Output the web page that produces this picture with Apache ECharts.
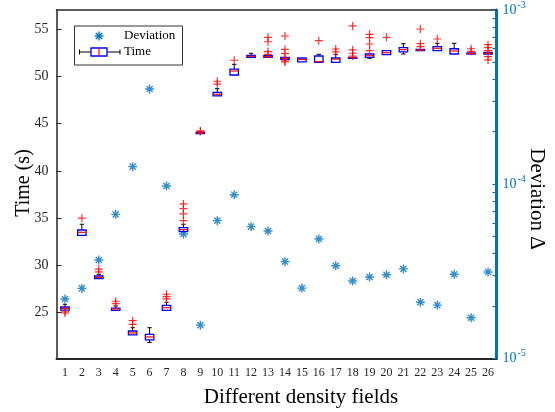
<!DOCTYPE html>
<html>
<head>
<meta charset="utf-8">
<script src="https://cdn.jsdelivr.net/npm/echarts@6/dist/echarts.min.js"></script>
<style>
  html, body { margin: 0; padding: 0; background: #fff; }
  #chart { width: 555px; height: 412px; }
</style>
</head>
<body>
<div id="chart"></div>
<script>
// density fields 1..26
const categories = ['1', '2', '3', '4', '5', '6', '7', '8', '9', '10', '11', '12', '13',
  '14', '15', '16', '17', '18', '19', '20', '21', '22', '23', '24', '25', '26']

// deviation (right, log axis)
const deviation = [2.19e-5, 2.52e-5, 3.67e-5, 6.71e-5, 1.26e-4, 3.52e-4, 9.76e-5, 5.17e-5,
  1.55e-5, 6.17e-5, 8.7e-5, 5.70e-5, 5.38e-5, 3.59e-5, 2.53e-5, 4.84e-5, 3.40e-5, 2.78e-5,
  2.93e-5, 3.02e-5, 3.26e-5, 2.10e-5, 2.02e-5, 3.04e-5, 1.71e-5, 3.13e-5]

// box statistics of time (s)
const whiskerLow = [25.28, 33.19, 28.60, 25.25, 22.64, 21.86, 25.25, 33.57, 43.92, 47.94, 50.16, 52.03, 52.03,
  51.82, 51.54, 51.50, 51.50, 51.96, 51.93, 52.31, 52.38, 52.73, 52.73, 52.38, 52.38, 52.38]
const q1 = [25.28, 33.19, 28.60, 25.25, 22.64, 22.11, 25.25, 33.57, 43.95, 47.94, 50.16, 52.03, 52.03,
  51.82, 51.54, 51.50, 51.50, 51.96, 52.03, 52.31, 52.60, 52.73, 52.73, 52.38, 52.38, 52.38]
const median = [25.45, 33.51, 28.74, 25.39, 22.85, 22.43, 25.53, 33.79, 44.02, 48.12, 50.58, 52.14, 52.10,
  51.90, 51.80, 51.57, 51.85, 52.00, 52.20, 52.52, 52.84, 52.80, 52.99, 52.70, 52.43, 52.47]
const q3 = [25.60, 33.75, 28.88, 25.49, 23.06, 22.71, 25.78, 34.00, 44.08, 48.33, 50.79, 52.24, 52.20,
  52.03, 51.96, 52.17, 51.96, 52.03, 52.38, 52.73, 53.05, 52.88, 53.16, 52.94, 52.49, 52.56]
const whiskerHigh = [25.89, 34.36, 29.06, 25.71, 23.41, 23.41, 26.10, 34.36, 44.10, 48.71, 51.29, 52.46, 52.20,
  52.03, 51.96, 52.35, 52.35, 52.03, 52.38, 52.73, 53.47, 52.88, 53.51, 53.51, 52.49, 52.56]

// outliers (red +)
const outliers = [
  [25.15, 24.97], [35.0], [29.62, 29.31], [26.21, 25.95], [24.15, 23.77], [],
  [26.95, 26.69, 26.45], [36.51, 36.01, 35.45, 34.74], [44.25, 44.18], [49.5, 49.2], [51.72], [],
  [54.15, 53.68, 52.63, 52.35], [54.29, 52.88, 52.42, 51.93, 51.67, 51.54], [], [53.79],
  [52.91, 52.6], [55.35, 52.81, 52.46, 52.17], [54.47, 54.11, 53.44, 52.73], [54.15], [],
  [55.03, 53.47, 53.16], [53.97], [], [52.94, 52.67], [53.37, 53.05, 52.73, 52.10, 51.75]
]

const timeTicks = [25, 30, 35, 40, 45, 50, 55]
const devLabels = [1e-5, 1e-4, 1e-3]
const devTicks = [1e-5, 2e-5, 3e-5, 4e-5, 5e-5, 6e-5, 7e-5, 8e-5, 9e-5,
  1e-4, 2e-4, 3e-4, 4e-4, 5e-4, 6e-4, 7e-4, 8e-4, 9e-4, 1e-3]

const FONT = 'Liberation Serif'
const BLUE = '#0072BD'
const TEXT = '#262626'

const boxData = categories.map((c, i) => [i, whiskerLow[i], q1[i], median[i], q3[i], whiskerHigh[i]])
const outlierData = []
outliers.forEach((list, i) => list.forEach(v => outlierData.push([i, v])))
const devData = deviation.map((v, i) => [i, v])

const ASTERISK = 'path://M5,0L5,10M0,5L10,5M1.6,1.6L8.4,8.4M1.6,8.4L8.4,1.6'
const PLUS = 'path://M5,0L5,10M0,5L10,5'

function renderBox(params, api) {
  const x = api.value(0)
  const pLo = api.coord([x, api.value(1)])
  const pQ1 = api.coord([x, api.value(2)])
  const pMed = api.coord([x, api.value(3)])
  const pQ3 = api.coord([x, api.value(4)])
  const pHi = api.coord([x, api.value(5)])
  const hw = api.size([1, 0])[0] * 0.25
  const cap = 2.2
  const cx = pMed[0]
  const black = { stroke: '#000', lineWidth: 1 }
  const children = []
  if (pHi[1] < pQ3[1] - 0.5) {
    children.push({ type: 'line', shape: { x1: cx, y1: pQ3[1], x2: cx, y2: pHi[1] }, style: black })
    children.push({ type: 'line', shape: { x1: cx - cap, y1: pHi[1], x2: cx + cap, y2: pHi[1] }, style: black })
  }
  if (pLo[1] > pQ1[1] + 0.5) {
    children.push({ type: 'line', shape: { x1: cx, y1: pQ1[1], x2: cx, y2: pLo[1] }, style: black })
    children.push({ type: 'line', shape: { x1: cx - cap, y1: pLo[1], x2: cx + cap, y2: pLo[1] }, style: black })
  }
  children.push({
    type: 'rect',
    shape: { x: cx - hw, y: pQ3[1], width: hw * 2, height: Math.max(pQ1[1] - pQ3[1], 1) },
    style: { fill: 'none', stroke: '#0000FF', lineWidth: 1.3 }
  })
  children.push({
    type: 'line',
    shape: { x1: cx - hw, y1: pMed[1], x2: cx + hw, y2: pMed[1] },
    style: { stroke: '#FF0000', lineWidth: 1.2 }
  })
  return { type: 'group', children }
}

// small legend glyphs
function legendLine(x1, y1, x2, y2, color, w) {
  return { type: 'line', z: 12, shape: { x1, y1, x2, y2 }, style: { stroke: color, lineWidth: w } }
}

const chart = echarts.init(document.getElementById('chart'))

const option = {
  animation: false,
  grid: { left: 56.5, right: 58.5, top: 10, bottom: 53.7 },
  xAxis: [
    {
      type: 'category',
      data: categories,
      position: 'bottom',
      axisLine: { lineStyle: { color: TEXT, width: 2 } },
      axisTick: { inside: true, length: 5, alignWithLabel: true, interval: 0, lineStyle: { color: TEXT } },
      axisLabel: { interval: 0, margin: 9, fontFamily: FONT, fontSize: 12, color: TEXT },
      splitLine: { show: false }
    },
    {
      type: 'category',
      data: categories,
      position: 'top',
      axisLine: { lineStyle: { color: TEXT, width: 1.5 } },
      axisTick: { inside: true, length: 5, alignWithLabel: true, interval: 0, lineStyle: { color: TEXT } },
      axisLabel: { show: false },
      splitLine: { show: false }
    }
  ],
  yAxis: [
    {
      type: 'value',
      position: 'left',
      min: 20.17,
      max: 57.04,
      axisLine: { show: true, lineStyle: { color: TEXT, width: 1.5 } },
      axisTick: { show: true, inside: true, length: 5, customValues: timeTicks, lineStyle: { color: TEXT } },
      axisLabel: { customValues: timeTicks, margin: 8, fontFamily: FONT, fontSize: 14, color: TEXT },
      splitLine: { show: false }
    },
    {
      type: 'log',
      logBase: 10,
      position: 'right',
      min: 1e-5,
      max: 1e-3,
      axisLine: { show: true, lineStyle: { color: BLUE, width: 3 } },
      axisTick: { show: true, inside: true, length: 4, customValues: devTicks, lineStyle: { color: BLUE } },
      axisLabel: {
        customValues: devLabels,
        margin: 6,
        color: BLUE,
        formatter: v => '{b|10}{s|' + Math.round(Math.log10(v)) + '}',
        rich: {
          b: { fontFamily: FONT, fontSize: 14, color: BLUE },
          s: { fontFamily: FONT, fontSize: 10, color: BLUE, padding: [0, 0, 9, 1] }
        }
      },
      splitLine: { show: false }
    }
  ],
  series: [
    {
      name: 'Deviation',
      type: 'scatter',
      xAxisIndex: 0,
      yAxisIndex: 1,
      symbol: ASTERISK,
      symbolSize: 9,
      itemStyle: { color: 'rgba(0,0,0,0)', borderColor: BLUE, borderWidth: 1.4 },
      data: devData,
      z: 3
    },
    {
      name: 'Time',
      type: 'custom',
      xAxisIndex: 0,
      yAxisIndex: 0,
      renderItem: renderBox,
      encode: { x: 0, y: [1, 2, 3, 4, 5] },
      data: boxData,
      z: 4
    },
    {
      name: 'Outliers',
      type: 'scatter',
      xAxisIndex: 0,
      yAxisIndex: 0,
      symbol: PLUS,
      symbolSize: 8,
      itemStyle: { color: 'rgba(0,0,0,0)', borderColor: '#FF0000', borderWidth: 1.2 },
      data: outlierData,
      z: 5
    }
  ],
  graphic: [
    // axis titles
    {
      type: 'text', x: 24, y: 183, rotation: Math.PI / 2,
      style: { text: 'Time (s)', fontFamily: FONT, fontSize: 20, fill: '#000', align: 'center', verticalAlign: 'middle' }
    },
    {
      type: 'text', x: 537, y: 199, rotation: -Math.PI / 2,
      style: { text: 'Deviation Δ', fontFamily: FONT, fontSize: 21, fill: '#000', align: 'center', verticalAlign: 'middle' }
    },
    {
      type: 'text', x: 301, y: 397,
      style: { text: 'Different density fields', fontFamily: FONT, fontSize: 21, fill: '#000', align: 'center', verticalAlign: 'middle' }
    },
    // legend
    {
      type: 'rect', z: 10, shape: { x: 74.5, y: 26, width: 108, height: 39 },
      style: { fill: '#fff', stroke: '#333', lineWidth: 1 }
    },
    legendLine(99, 31.5, 99, 40.5, BLUE, 1.4),
    legendLine(94.5, 36, 103.5, 36, BLUE, 1.4),
    legendLine(95.9, 32.9, 102.1, 39.1, BLUE, 1.4),
    legendLine(95.9, 39.1, 102.1, 32.9, BLUE, 1.4),
    {
      type: 'text', x: 124, y: 36, z: 12,
      style: { text: 'Deviation', fontFamily: FONT, fontSize: 13, fill: '#000', verticalAlign: 'middle' }
    },
    legendLine(79.5, 52, 120, 52, '#000', 1),
    legendLine(79.5, 49.5, 79.5, 54.5, '#000', 1),
    legendLine(120, 49.5, 120, 54.5, '#000', 1),
    {
      type: 'rect', z: 13, shape: { x: 91, y: 48, width: 16, height: 8 },
      style: { fill: '#fff', stroke: '#0000FF', lineWidth: 1.3 }
    },
    { type: 'line', z: 14, shape: { x1: 99, y1: 48, x2: 99, y2: 56 }, style: { stroke: '#FF0000', lineWidth: 1.2 } },
    {
      type: 'text', x: 124, y: 52, z: 12,
      style: { text: 'Time', fontFamily: FONT, fontSize: 13, fill: '#000', verticalAlign: 'middle' }
    }
  ]
}

chart.setOption(option)
</script>
</body>
</html>
